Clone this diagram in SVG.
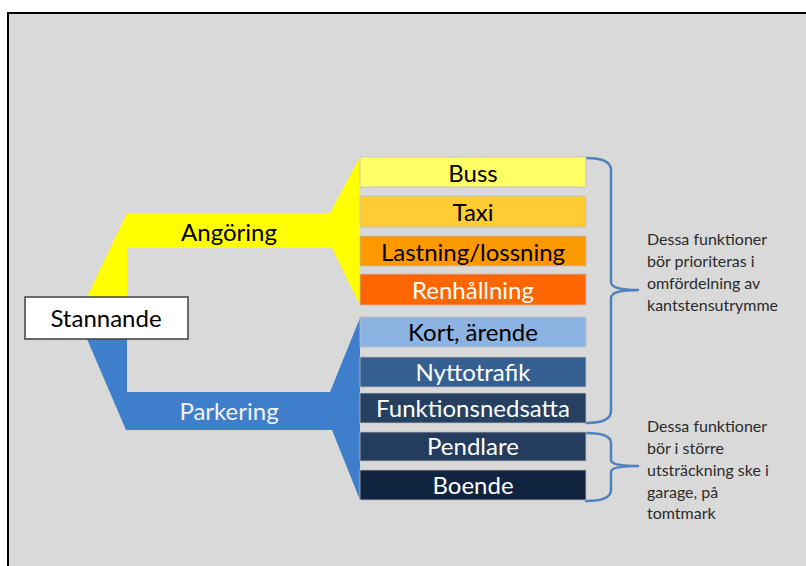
<svg xmlns="http://www.w3.org/2000/svg" width="806" height="566" viewBox="0 0 806 566">
<style>
.lbl{font-family:Lato,"Open Sans","DejaVu Sans",sans-serif;font-size:24px;text-anchor:middle}
.note{font-family:Lato,"Open Sans","DejaVu Sans",sans-serif;font-size:16px;fill:#2b2b2b}
.box{stroke:#bfbfbf;stroke-width:0.8}
.brace{fill:none;stroke:#4f81bd;stroke-width:2.5;stroke-linejoin:round;stroke-linecap:round}
</style>
<rect x="0" y="0" width="806" height="566" fill="#ffffff"/>
<rect x="8" y="13" width="820" height="580" fill="#d9d9d9" stroke="#000" stroke-width="2"/>
<g id="connectors">
  <g id="angoring">
    <polygon points="87,297 127,213 330,213 360,157 360,305 332,248 127,248 127,297" fill="#ffff00"/>
    <text class="lbl" x="229" y="241" fill="#000">Angöring</text>
  </g>
  <g id="parkering">
    <polygon points="87,339 127,339 127,392 330,392 360,318 360,500 332,430 126,430" fill="#3e7ecb"/>
    <text class="lbl" x="229" y="420" fill="#f2f2f2">Parkering</text>
  </g>
  <path class="brace" d="M586,158 Q611,158 611,170 L611,282 Q611,290 638,290 Q611,290 611,298 L611,411 Q611,423 586,423"/>
  <path class="brace" d="M586,433 Q611,433 611,443 L611,460 Q611,466 638,466 Q611,466 611,472 L611,490 Q611,501 586,501"/>
</g>
<g id="stannande">
  <rect x="25" y="297" width="163" height="42" fill="#ffffff" stroke="#404040" stroke-width="1.5"/>
  <text class="lbl" x="106" y="327" fill="#000">Stannande</text>
</g>
<g id="buss"><rect class="box" x="360" y="157" width="226" height="30" fill="#ffff66"/><text class="lbl" x="473" y="182" fill="#000">Buss</text></g>
<g id="taxi"><rect class="box" x="360" y="196" width="226" height="31" fill="#ffcc33"/><text class="lbl" x="473" y="221" fill="#000">Taxi</text></g>
<g id="lastning"><rect class="box" x="360" y="236" width="226" height="30" fill="#ff9900"/><text class="lbl" x="473" y="261" fill="#000">Lastning/lossning</text></g>
<g id="renhallning"><rect class="box" x="360" y="274" width="226" height="31" fill="#ff6600"/><text class="lbl" x="473" y="299" fill="#ffffff">Renhållning</text></g>
<g id="kort"><rect class="box" x="360" y="317" width="226" height="30" fill="#8db3e2"/><text class="lbl" x="473" y="341" fill="#000">Kort, ärende</text></g>
<g id="nyttotrafik"><rect class="box" x="360" y="357" width="226" height="30" fill="#355f91"/><text class="lbl" x="473" y="381" fill="#ffffff">Nyttotrafik</text></g>
<g id="funktionsnedsatta"><rect class="box" x="360" y="393" width="226" height="30" fill="#254061"/><text class="lbl" x="473" y="417" fill="#ffffff">Funktionsnedsatta</text></g>
<g id="pendlare"><rect class="box" x="360" y="432" width="226" height="29" fill="#243c5e"/><text class="lbl" x="473" y="455" fill="#ffffff">Pendlare</text></g>
<g id="boende"><rect class="box" x="360" y="470" width="226" height="30" fill="#10243f"/><text class="lbl" x="473" y="494" fill="#ffffff">Boende</text></g>
<g id="note1">
  <text class="note" x="647" y="245">Dessa funktioner</text>
  <text class="note" x="647" y="267">bör prioriteras i</text>
  <text class="note" x="647" y="289">omfördelning av</text>
  <text class="note" x="647" y="311">kantstensutrymme</text>
</g>
<g id="note2">
  <text class="note" x="647" y="432">Dessa funktioner</text>
  <text class="note" x="647" y="454">bör i större</text>
  <text class="note" x="647" y="476">utsträckning ske i</text>
  <text class="note" x="647" y="498">garage, på</text>
  <text class="note" x="647" y="519">tomtmark</text>
</g>
</svg>
